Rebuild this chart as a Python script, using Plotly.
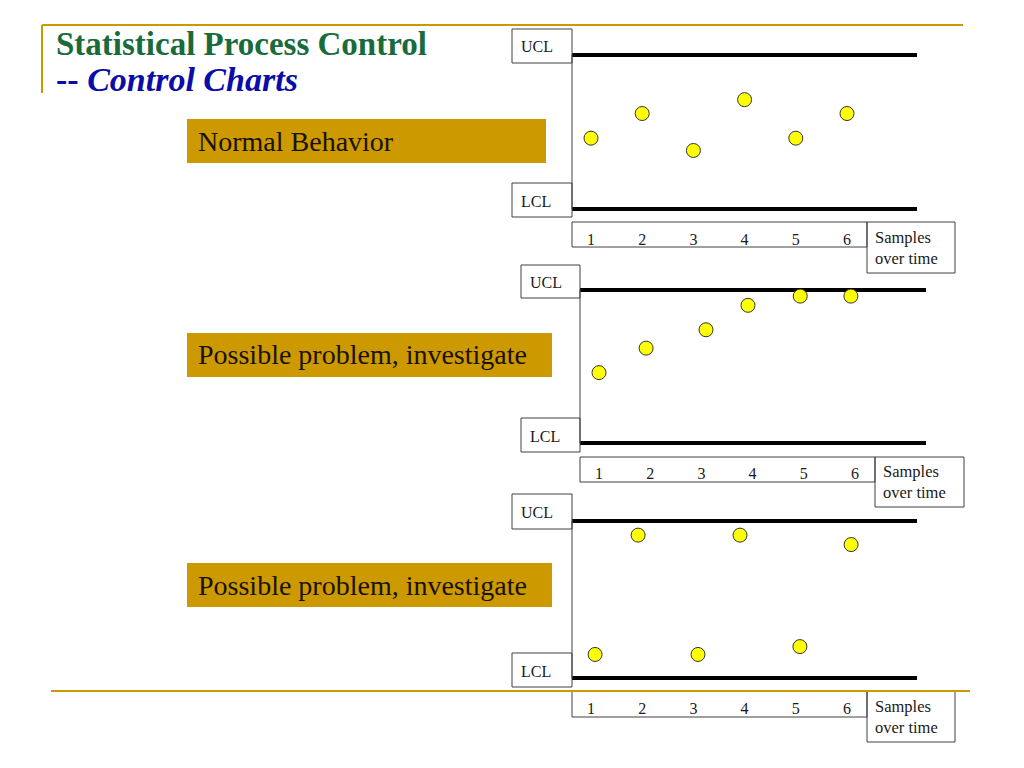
import plotly.graph_objects as go

# ---------------- data ----------------
ucl_value = 10
lcl_value = 0
tick_labels = ["1", "2", "3", "4", "5", "6"]
tick_positions = [1, 2, 3, 4, 5, 6]

chart1_x = [1.0, 2.0, 3.0, 4.0, 5.0, 6.0]
chart1_y = [4.6, 6.2, 3.8, 7.1, 4.6, 6.2]

chart2_x = [1.0, 1.92, 3.09, 3.91, 4.93, 5.92]
chart2_y = [4.6, 6.2, 7.4, 9.0, 9.6, 9.6]

chart3_x = [1.08, 1.92, 3.09, 3.91, 5.08, 6.08]
chart3_y = [1.5, 9.1, 1.5, 9.1, 2.0, 8.5]

labels = ["Normal Behavior", "Possible problem, investigate", "Possible problem, investigate"]
title_line1 = "Statistical Process Control"
title_line2 = "-- <i>Control Charts</i>"

# ---------------- layout helpers ----------------
W, H = 1024, 768
def X(px):
    return px / W
def Y(py):
    return 1 - py / H

GOLD = "#CC9900"
BOX = "#404040"
SERIF = "Liberation Serif, Times New Roman, serif"

charts = [
    dict(x=chart1_x, y=chart1_y, left=572, right=917, ucl=55, lcl=209,
         ucl_box=(512, 29, 572, 63), lcl_box=(512, 183, 572, 217),
         axis_box=(572, 222, 867, 247), samp_box=(867, 222, 955, 273),
         label_box=(187, 119, 546, 163), label=labels[0]),
    dict(x=chart2_x, y=chart2_y, left=580, right=926, ucl=290, lcl=443,
         ucl_box=(521, 265, 580, 298), lcl_box=(521, 418, 580, 452),
         axis_box=(580, 457, 875, 482), samp_box=(875, 457, 964, 507),
         label_box=(187, 333, 552, 377), label=labels[1]),
    dict(x=chart3_x, y=chart3_y, left=572, right=917, ucl=521, lcl=678,
         ucl_box=(512, 494, 572, 529), lcl_box=(512, 653, 572, 687),
         axis_box=(572, 691, 867, 717), samp_box=(867, 691, 955, 742),
         label_box=(187, 563, 552, 607), label=labels[2]),
]

fig = go.Figure()
shapes = []
annotations = []
px_per_unit = 51.2
pad = 1.0  # y padding in data units so limit lines are not clipped

for i, c in enumerate(charts):
    n = "" if i == 0 else str(i + 1)
    xa, ya = "x" + n, "y" + n
    x0 = 1 - 19 / px_per_unit
    x1 = x0 + (c["right"] - c["left"]) / px_per_unit
    ppu_y = (c["lcl"] - c["ucl"]) / (ucl_value - lcl_value)
    fig.add_trace(go.Scatter(
        x=c["x"], y=c["y"], mode="markers", xaxis=xa, yaxis=ya,
        marker=dict(size=14, color="#FFFF00", line=dict(color="#333333", width=1)),
        cliponaxis=False, showlegend=False, hoverinfo="skip"))
    fig.layout["xaxis" + n] = dict(
        domain=[X(c["left"]), X(c["right"])], range=[x0, x1],
        showgrid=False, zeroline=False, showline=False, ticks="",
        tickvals=tick_positions, ticktext=tick_labels,
        tickfont=dict(family=SERIF, size=16, color="#1a1a1a"),
        ticklabelstandoff=max(0, round(19 - pad * ppu_y)),
        anchor=ya, fixedrange=True)
    fig.layout["yaxis" + n] = dict(
        domain=[Y(c["lcl"] + pad * ppu_y), Y(c["ucl"] - pad * ppu_y)],
        range=[lcl_value - pad, ucl_value + pad],
        showgrid=False, zeroline=False, showline=False, showticklabels=False,
        ticks="", anchor=xa, fixedrange=True)
    xd = xa + " domain"
    for v in (ucl_value, lcl_value):
        shapes.append(dict(type="line", xref=xd, yref=ya, x0=0, x1=1, y0=v, y1=v,
                           line=dict(color="black", width=4), layer="below"))
    shapes.append(dict(type="line", xref="paper", yref="paper", x0=X(c["left"]), x1=X(c["left"]),
                       y0=Y(c["lcl"]), y1=Y(c["ucl"]),
                       line=dict(color=BOX, width=1), layer="below"))
    for key in ("ucl_box", "lcl_box", "axis_box", "samp_box"):
        a, b, cc, d = c[key]
        shapes.append(dict(type="rect", xref="paper", yref="paper",
                           x0=X(a), x1=X(cc), y0=Y(d), y1=Y(b),
                           line=dict(color=BOX, width=1), fillcolor="rgba(0,0,0,0)",
                           layer="below"))
    for key, txt in (("ucl_box", "UCL"), ("lcl_box", "LCL")):
        a, b, cc, d = c[key]
        annotations.append(dict(xref="paper", yref="paper", x=X(a + 7), y=Y((b + d) / 2 + 1),
                                xanchor="left", yanchor="middle", showarrow=False, text=txt,
                                font=dict(family=SERIF, size=16, color="#1a1a1a")))
    a, b, cc, d = c["samp_box"]
    annotations.append(dict(xref="paper", yref="paper", x=X(a + 6), y=Y((b + d) / 2),
                            xanchor="left", yanchor="middle", showarrow=False, align="left",
                            text="Samples<br>over time",
                            font=dict(family=SERIF, size=16.5, color="#1a1a1a")))
    a, b, cc, d = c["label_box"]
    shapes.append(dict(type="rect", xref="paper", yref="paper",
                       x0=X(a), x1=X(cc), y0=Y(d), y1=Y(b),
                       line=dict(width=0), fillcolor=GOLD, layer="below"))
    annotations.append(dict(xref="paper", yref="paper", x=X(a + 9), y=Y((b + d) / 2),
                            xanchor="left", yanchor="middle", showarrow=False, text=c["label"],
                            font=dict(family=SERIF, size=28, color="#1a1200")))

shapes.append(dict(type="line", xref="paper", yref="paper", x0=X(42), x1=X(963), y0=Y(25), y1=Y(25),
                   line=dict(color=GOLD, width=2)))
shapes.append(dict(type="line", xref="paper", yref="paper", x0=X(42), x1=X(42), y0=Y(25), y1=Y(93),
                   line=dict(color=GOLD, width=2)))
shapes.append(dict(type="line", xref="paper", yref="paper", x0=X(51), x1=X(970), y0=Y(691), y1=Y(691),
                   line=dict(color=GOLD, width=2)))

annotations.append(dict(xref="paper", yref="paper", x=X(54), y=Y(44), xanchor="left", yanchor="middle",
                        showarrow=False, text="<b>" + title_line1 + "</b>",
                        font=dict(family=SERIF, size=33, color="#1a6b3c")))
annotations.append(dict(xref="paper", yref="paper", x=X(54), y=Y(80), xanchor="left", yanchor="middle",
                        showarrow=False, text="<b>" + title_line2 + "</b>",
                        font=dict(family=SERIF, size=34, color="#0c0ca8")))

fig.update_layout(width=W, height=H, margin=dict(l=0, r=0, t=0, b=0),
                  paper_bgcolor="white", plot_bgcolor="white",
                  shapes=shapes, annotations=annotations, showlegend=False)

fig.write_html("out.html", config={"displayModeBar": False},
               post_script="document.body.style.margin='0px';document.body.style.overflow='hidden';")
